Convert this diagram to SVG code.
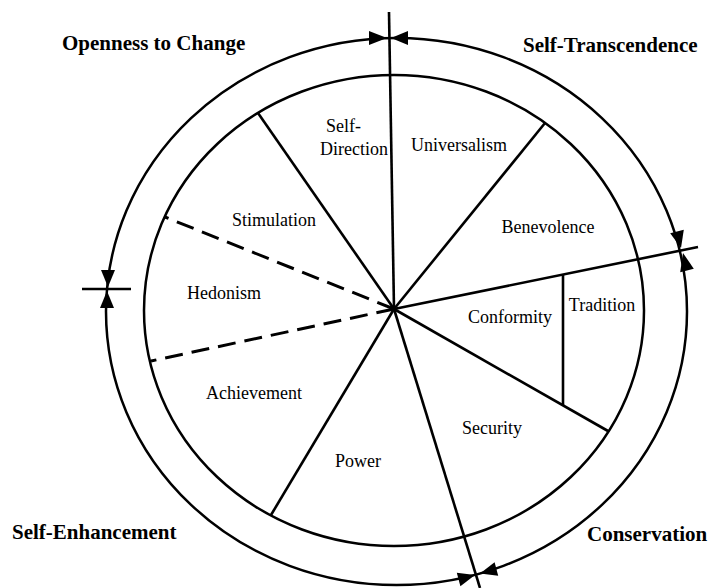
<svg xmlns="http://www.w3.org/2000/svg" width="710" height="588" viewBox="0 0 710 588">
<style>
  .ring { fill: none; stroke: #000; stroke-width: 2.5; }
  .ln { stroke: #000; stroke-width: 2.6; fill: none; stroke-linecap: butt; }
  .dash { stroke: #000; stroke-width: 3; fill: none; stroke-dasharray: 18 9; }
  .arr { fill: #000; stroke: none; }
  .lbl { font-family: "Liberation Serif", "Times New Roman", serif; font-size: 18px; fill: #000; text-anchor: middle; }
  .quad { font-family: "Liberation Serif", "Times New Roman", serif; font-size: 21px; font-weight: bold; fill: #000; }
</style>
<rect width="710" height="588" fill="#fff"/>

<g id="rings">
  <ellipse class="ring" cx="396.5" cy="311.5" rx="290.5" ry="273.5"/>
  <ellipse class="ring" cx="394" cy="310.5" rx="250" ry="235.5"/>
</g>

<g id="connectors">
  <line class="ln" x1="389" y1="12" x2="394" y2="309"/>
  <line class="ln" x1="394" y1="309" x2="480" y2="588"/>
  <line class="ln" x1="394" y1="309" x2="258" y2="113"/>
  <line class="ln" x1="394" y1="309" x2="545" y2="123"/>
  <line class="ln" x1="394" y1="309" x2="698" y2="247"/>
  <line class="ln" x1="394" y1="309" x2="608" y2="431"/>
  <line class="ln" x1="563" y1="274.5" x2="563" y2="405"/>
  <line class="ln" x1="394" y1="309" x2="271" y2="515"/>
  <line class="dash" x1="394" y1="309" x2="165" y2="217"/>
  <line class="dash" x1="394" y1="309" x2="151" y2="361"/>
  <line class="ln" x1="82" y1="289" x2="131" y2="289"/>
  <polygon class="arr" points="387,38 369,31 369,45"/>
  <polygon class="arr" points="391,38 408,31 408,45"/>
  <polygon class="arr" points="681,248 683.8,229.8 670.2,233.2"/>
  <polygon class="arr" points="683,253 693.8,268.8 680.2,272.2"/>
  <polygon class="arr" points="108,287 101,270 115,270"/>
  <polygon class="arr" points="107,291 100,308 114,308"/>
  <polygon class="arr" points="475,575 460.4,586.3 456.8,572.7"/>
  <polygon class="arr" points="480,573.5 498.2,575.8 494.6,562.2"/>
</g>

<g id="self-direction"><text class="lbl" style="text-anchor:start" x="326" y="132">Self-</text><text class="lbl" style="text-anchor:start" x="320" y="155">Direction</text></g>
<g id="universalism"><text class="lbl" x="459" y="151">Universalism</text></g>
<g id="benevolence"><text class="lbl" x="548" y="233">Benevolence</text></g>
<g id="stimulation"><text class="lbl" x="274" y="226">Stimulation</text></g>
<g id="hedonism"><text class="lbl" x="224" y="299">Hedonism</text></g>
<g id="conformity"><text class="lbl" x="510" y="323">Conformity</text></g>
<g id="tradition"><text class="lbl" x="602" y="311">Tradition</text></g>
<g id="achievement"><text class="lbl" x="254" y="399">Achievement</text></g>
<g id="security"><text class="lbl" x="492" y="434">Security</text></g>
<g id="power"><text class="lbl" x="358" y="467">Power</text></g>

<g id="openness"><text class="quad" x="62" y="50">Openness to Change</text></g>
<g id="self-transcendence"><text class="quad" x="523" y="52">Self-Transcendence</text></g>
<g id="self-enhancement"><text class="quad" x="12" y="539">Self-Enhancement</text></g>
<g id="conservation"><text class="quad" x="587" y="541">Conservation</text></g>
</svg>
